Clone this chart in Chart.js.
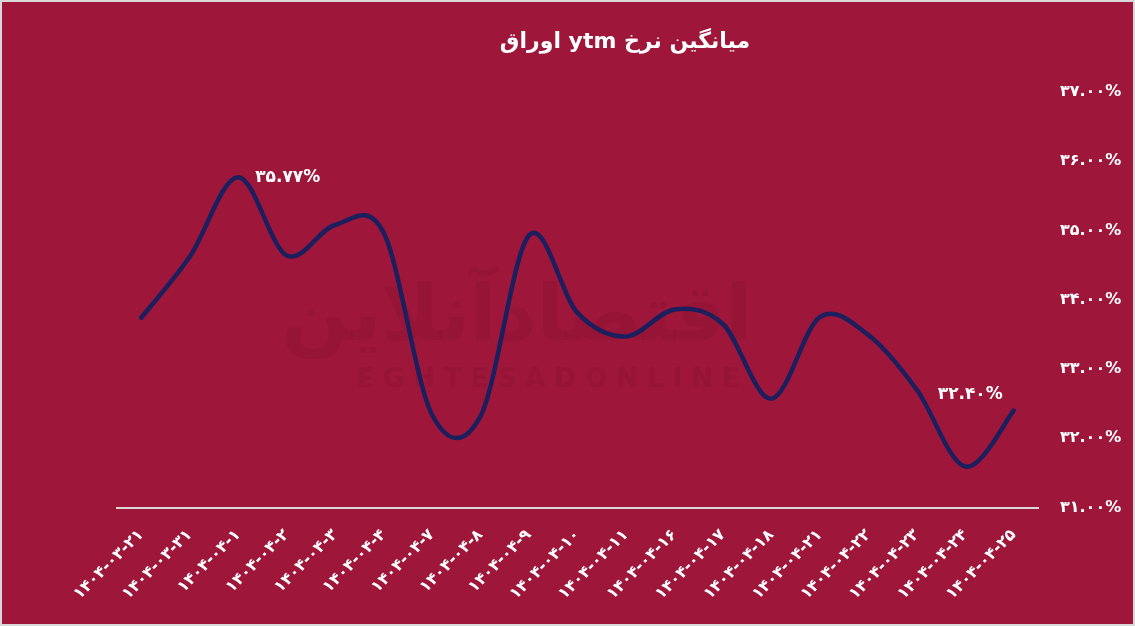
<!DOCTYPE html>
<html>
<head>
<meta charset="utf-8">
<script src="https://cdn.jsdelivr.net/npm/chart.js@4/dist/chart.umd.min.js"></script>
<style>
  html, body { margin: 0; padding: 0; background: #d9d9d9; }
  #wrap { width: 1131px; height: 622px; border: 2px solid #d9d9d9; background: #9e1639; position: relative; }
  canvas { display: block; }
</style>
</head>
<body>
<div id="wrap"><canvas id="c" width="1131" height="622"></canvas></div>
<script>
// ---- data ----
const categories = [
  '۱۴۰۴-۰۳-۲۱', '۱۴۰۴-۰۳-۳۱', '۱۴۰۴-۰۴-۱', '۱۴۰۴-۰۴-۲', '۱۴۰۴-۰۴-۳',
  '۱۴۰۴-۰۴-۴', '۱۴۰۴-۰۴-۷', '۱۴۰۴-۰۴-۸', '۱۴۰۴-۰۴-۹', '۱۴۰۴-۰۴-۱۰',
  '۱۴۰۴-۰۴-۱۱', '۱۴۰۴-۰۴-۱۶', '۱۴۰۴-۰۴-۱۷', '۱۴۰۴-۰۴-۱۸', '۱۴۰۴-۰۴-۲۱',
  '۱۴۰۴-۰۴-۲۲', '۱۴۰۴-۰۴-۲۳', '۱۴۰۴-۰۴-۲۴', '۱۴۰۴-۰۴-۲۵'
];
const ytmValues = [33.74, 34.62, 35.77, 34.64, 35.08, 34.97, 32.34, 32.32, 34.93, 33.81,
                   33.47, 33.86, 33.65, 32.57, 33.75, 33.49, 32.70, 31.59, 32.40];
const yTickValues = [31, 32, 33, 34, 35, 36, 37];
const labelledIndices = [2, 18];
const titleText = 'میانگین نرخ ytm اوراق';

const FONT = "'DejaVu Sans', sans-serif";
const faDigits = s => String(s).replace(/[0-9]/g, d => '۰۱۲۳۴۵۶۷۸۹'[d]);
const pct = v => faDigits(v.toFixed(2)) + '%';

// Uniform Catmull-Rom smoothing (spreadsheet-style smooth line)
const smoothLine = {
  id: 'smoothLine',
  beforeDatasetDraw(chart, args) {
    const meta = args.meta;
    const pts = meta.data;
    const n = pts.length;
    for (let i = 0; i < n; i++) {
      const p = pts[i];
      const prev = pts[Math.max(0, i - 1)];
      const next = pts[Math.min(n - 1, i + 1)];
      const dx = (next.x - prev.x) / 6, dy = (next.y - prev.y) / 6;
      p.cp1x = p.x - dx; p.cp1y = p.y - dy;
      p.cp2x = p.x + dx; p.cp2y = p.y + dy;
    }
    meta.dataset._pointsUpdated = true;
  }
};

const watermark = {
  id: 'watermark',
  beforeDatasetsDraw(chart) {
    const ctx = chart.ctx;
    ctx.save();
    ctx.fillStyle = 'rgba(60,0,20,0.07)';
    ctx.textAlign = 'center';
    ctx.textBaseline = 'middle';
    ctx.font = "bold 78px " + FONT;
    ctx.fillText('اقتصادآنلاین', 515, 318);
    ctx.font = "bold 26px " + FONT;
    ctx.fillText('E G H T E S A D O N L I N E', 546, 378);
    ctx.restore();
  }
};

const valueLabels = {
  id: 'valueLabels',
  afterDatasetsDraw(chart) {
    const ctx = chart.ctx;
    const meta = chart.getDatasetMeta(0);
    ctx.save();
    ctx.fillStyle = '#ffffff';
    ctx.font = "bold 17px " + FONT;
    ctx.textBaseline = 'middle';
    labelledIndices.forEach(i => {
      const el = meta.data[i];
      const txt = pct(ytmValues[i]);
      if (i === ytmValues.length - 1) {
        ctx.textAlign = 'right';
        ctx.fillText(txt, el.x - 11, el.y - 16);
      } else {
        ctx.textAlign = 'left';
        ctx.fillText(txt, el.x + 17, el.y);
      }
    });
    ctx.restore();
  }
};

new Chart(document.getElementById('c'), {
  type: 'line',
  data: {
    labels: categories,
    datasets: [{
      data: ytmValues,
      borderColor: '#1c1f5e',
      borderWidth: 4.5,
      pointRadius: 0,
      pointHoverRadius: 0,
      tension: 0.4,
      fill: false,
      borderCapStyle: 'round',
      borderJoinStyle: 'round'
    }]
  },
  options: {
    responsive: false,
    animation: false,
    events: [],
    layout: { padding: { left: 115, right: 0, top: 0, bottom: 0 } },
    plugins: {
      legend: { display: false },
      tooltip: { enabled: false },
      title: {
        display: true,
        text: '\u202B' + titleText + '\u202C',
        color: '#ffffff',
        font: { family: FONT, size: 22, weight: 'bold', lineHeight: 1.2 },
        padding: { top: 26.8, bottom: 36.8 }
      }
    },
    scales: {
      x: {
        offset: true,
        grid: { display: false, drawTicks: false },
        border: { display: true, color: '#d9d9d9', width: 2 },
        afterFit: s => { s.height = 116.5; },
        ticks: {
          autoSkip: false,
          minRotation: 45,
          maxRotation: 45,
          padding: 18,
          color: '#ffffff',
          font: { family: FONT, size: 16, weight: 'bold' }
        }
      },
      y: {
        position: 'right',
        min: 31,
        max: 37,
        afterBuildTicks: s => { s.ticks = yTickValues.map(v => ({ value: v })); },
        afterFit: s => { s.width = 95; },
        grid: { display: false, drawTicks: false },
        border: { display: false },
        ticks: {
          padding: 22,
          color: '#ffffff',
          font: { family: FONT, size: 16, weight: 'bold' },
          callback: v => pct(v)
        }
      }
    }
  },
  plugins: [watermark, smoothLine, valueLabels]
});
</script>
</body>
</html>
